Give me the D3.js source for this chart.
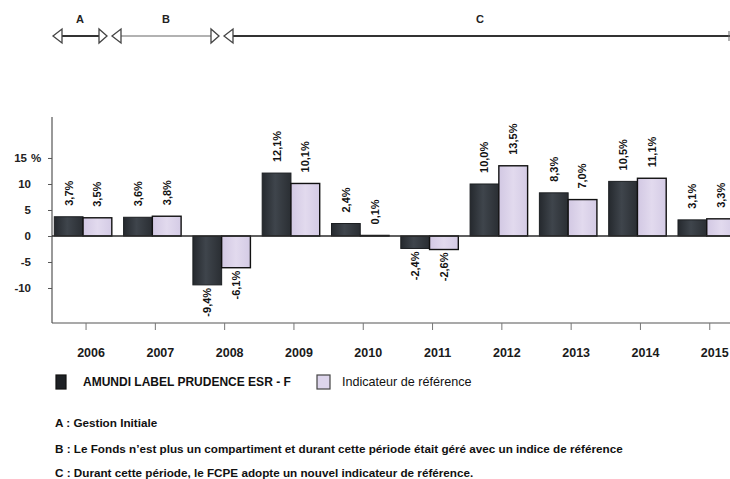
<!DOCTYPE html>
<html>
<head>
<meta charset="utf-8">
<script src="https://cdn.jsdelivr.net/npm/d3@7"></script>
<style>
  html, body { margin: 0; padding: 0; background: #fff; }
  svg { display: block; font-family: "Liberation Sans", Arial, sans-serif; }
</style>
</head>
<body>
<div id="chart"></div>
<script>
// values
const years = ['2006', '2007', '2008', '2009', '2010', '2011', '2012', '2013', '2014', '2015'];
const fundValues = [3.7, 3.6, -9.4, 12.1, 2.4, -2.4, 10.0, 8.3, 10.5, 3.1];
const refValues = [3.5, 3.8, -6.1, 10.1, 0.1, -2.6, 13.5, 7.0, 11.1, 3.3];
const yTicks = [-10, -5, 0, 5, 10, 15];
const seriesNames = ['AMUNDI LABEL PRUDENCE ESR - F', 'Indicateur de référence'];
const periodLabels = ['A', 'B', 'C'];
const notes = [
  'A : Gestion Initiale',
  'B : Le Fonds n\u2019est plus un compartiment et durant cette période était géré avec un indice de référence',
  'C : Durant cette période, le FCPE adopte un nouvel indicateur de référence.'
];

const width = 730;
const height = 479;
const axisX = 52;

const svg = d3.select('#chart')
  .append('svg')
    .attr('width', width)
    .attr('height', height);

const defs = svg.append('defs');
const fundGrad = defs.append('linearGradient').attr('id', 'fundGrad');
fundGrad.append('stop').attr('offset', '0%').attr('stop-color', '#25292e');
fundGrad.append('stop').attr('offset', '45%').attr('stop-color', '#3f454c');
fundGrad.append('stop').attr('offset', '100%').attr('stop-color', '#2a2e33');
const refGrad = defs.append('linearGradient').attr('id', 'refGrad');
refGrad.append('stop').attr('offset', '0%').attr('stop-color', '#d2c8e3');
refGrad.append('stop').attr('offset', '50%').attr('stop-color', '#e2daee');
refGrad.append('stop').attr('offset', '100%').attr('stop-color', '#d4cbe5');

// scales
const x = d3.scaleBand()
  .domain(years)
  .range([48.4, 741.4])
  .paddingInner(0.17)
  .paddingOuter(0.085);

const xs = d3.scaleBand()
  .domain(['fund', 'ref'])
  .range([0, x.bandwidth()]);

const y = d3.scaleLinear()
  .domain([-16.73, 22.88])
  .range([323, 117]);

// period arrows on top
const periodSpans = [[53, 107], [112, 219], [224, 730]];
const arrowY = 36;
const arrows = svg.append('g').attr('class', 'periods');
periodSpans.forEach((s, i) => {
  const [a, b] = s;
  const thick = i !== 1;
  arrows.append('line')
    .attr('x1', a + 9).attr('x2', i === 2 ? b : b - 8)
    .attr('y1', arrowY).attr('y2', arrowY)
    .attr('stroke', thick ? '#333' : '#666')
    .attr('stroke-width', thick ? 2 : 1.2);
  arrows.append('polygon')
    .attr('points', `${a},${arrowY} ${a + 9},${arrowY - 7} ${a + 9},${arrowY + 7}`)
    .attr('fill', '#fff').attr('stroke', '#444').attr('stroke-width', 1.3);
  if (i < 2) {
    arrows.append('polygon')
      .attr('points', `${b},${arrowY} ${b - 8},${arrowY - 7} ${b - 8},${arrowY + 7}`)
      .attr('fill', '#fff').attr('stroke', '#444').attr('stroke-width', 1.3);
  }
});
arrows.append('line')
  .attr('x1', 729).attr('x2', 729)
  .attr('y1', arrowY - 5).attr('y2', arrowY + 5)
  .attr('stroke', '#666');
const labelX = [80, 166, 480];
arrows.selectAll('text.period')
  .data(periodLabels)
  .enter()
  .append('text')
    .attr('class', 'period')
    .attr('x', (d, i) => labelX[i])
    .attr('y', 23)
    .attr('text-anchor', 'middle')
    .style('font-size', '11px')
    .style('font-weight', 'bold')
    .style('fill', '#222')
    .text(d => d);

// y axis
const yAxis = svg.append('g')
  .attr('transform', `translate(${axisX},0)`)
  .call(d3.axisLeft(y)
    .tickValues(yTicks)
    .tickSize(4)
    .tickPadding(17)
    .tickFormat(d => d));
yAxis.select('.domain').remove();
yAxis.selectAll('.tick line').attr('stroke', '#555');
yAxis.selectAll('.tick text')
  .style('font-size', '11.5px')
  .style('font-weight', 'bold')
  .style('font-family', '"Liberation Sans", Arial, sans-serif')
  .style('fill', '#222');
const topTick = yAxis.selectAll('.tick').filter(d => d === 15);
topTick.select('text').attr('x', -25);
topTick.append('text')
  .attr('x', -21)
  .attr('dy', '0.32em')
  .attr('text-anchor', 'start')
  .style('font-size', '11.5px')
  .style('font-weight', 'bold')
  .style('fill', '#222')
  .text('%');

svg.append('line')
  .attr('x1', axisX).attr('x2', axisX)
  .attr('y1', y.range()[1]).attr('y2', y.range()[0])
  .attr('stroke', '#555').attr('stroke-width', 1.2);

// x axis line + ticks + labels
svg.append('line')
  .attr('x1', axisX).attr('x2', width)
  .attr('y1', 323).attr('y2', 323)
  .attr('stroke', '#555').attr('stroke-width', 1.2);

svg.append('g')
  .selectAll('line')
  .data(years)
  .enter()
  .append('line')
    .attr('x1', d => x(d) + x.bandwidth() / 2 + 3)
    .attr('x2', d => x(d) + x.bandwidth() / 2 + 3)
    .attr('y1', 323).attr('y2', 330)
    .attr('stroke', '#777');

svg.append('g')
  .selectAll('text')
  .data(years)
  .enter()
  .append('text')
    .attr('x', d => x(d) + x.bandwidth() / 2 + 8)
    .attr('y', 357)
    .attr('text-anchor', 'middle')
    .style('font-size', '12.5px')
    .style('font-weight', 'bold')
    .style('fill', '#1a1a1a')
    .text(d => d);

// bars
const rows = years.map((yr, i) => ({ year: yr, fund: fundValues[i], ref: refValues[i] }));
const fmt = v => v.toFixed(1).replace('.', ',') + '%';

const groups = svg.append('g')
  .selectAll('g')
  .data(rows)
  .enter()
  .append('g')
    .attr('transform', d => `translate(${x(d.year)},0)`);

groups.append('rect')
  .attr('x', xs('fund'))
  .attr('width', xs.bandwidth())
  .attr('y', d => y(Math.max(0, d.fund)))
  .attr('height', d => Math.abs(y(d.fund) - y(0)))
  .attr('fill', 'url(#fundGrad)')
  .attr('stroke', '#1c1f22')
  .attr('stroke-width', 1);

groups.append('rect')
  .attr('x', xs('ref'))
  .attr('width', xs.bandwidth())
  .attr('y', d => y(Math.max(0, d.ref)))
  .attr('height', d => Math.abs(y(d.ref) - y(0)))
  .attr('fill', 'url(#refGrad)')
  .attr('stroke', '#111')
  .attr('stroke-width', 1.4);

// value labels, rotated
['fund', 'ref'].forEach(key => {
  groups.append('text')
    .attr('transform', d => {
      const cx = xs(key) + xs.bandwidth() / 2;
      const v = d[key];
      const ty = v >= 0 ? y(v) - 11 : y(v) + 3;
      return `translate(${cx},${ty}) rotate(-90)`;
    })
    .attr('dy', '0.36em')
    .attr('text-anchor', d => d[key] >= 0 ? 'start' : 'end')
    .style('font-size', '11px')
    .style('font-weight', 'bold')
    .style('fill', '#111')
    .text(d => fmt(d[key]));
});

// zero line
svg.append('line')
  .attr('x1', axisX).attr('x2', width)
  .attr('y1', y(0)).attr('y2', y(0))
  .attr('stroke', '#2a2a2a').attr('stroke-width', 1.6);

// legend
const legend = svg.append('g').attr('class', 'legend');
const legendBoxX = [56, 317];
const legendTextX = [83, 342];
const legendFill = ['#1e2125', '#ddd5ec'];
const legendSize = ['12px', '12.6px'];
seriesNames.forEach((name, i) => {
  legend.append('rect')
    .attr('x', legendBoxX[i]).attr('y', 375)
    .attr('width', i === 0 ? 10 : 13).attr('height', 14)
    .attr('fill', legendFill[i])
    .attr('stroke', i === 0 ? '#111' : '#444')
    .attr('stroke-width', 1.2);
  legend.append('text')
    .attr('x', legendTextX[i]).attr('y', 386)
    .style('font-size', legendSize[i])
    .style('font-weight', i === 0 ? 'bold' : 'normal')
    .style('fill', '#111')
    .text(name);
});

// notes below
svg.append('g')
  .selectAll('text')
  .data(notes)
  .enter()
  .append('text')
    .attr('x', 55)
    .attr('y', (d, i) => [427, 453, 477][i])
    .style('font-size', '11.7px')
    .style('font-weight', 'bold')
    .style('fill', '#111')
    .text(d => d);
</script>
</body>
</html>
